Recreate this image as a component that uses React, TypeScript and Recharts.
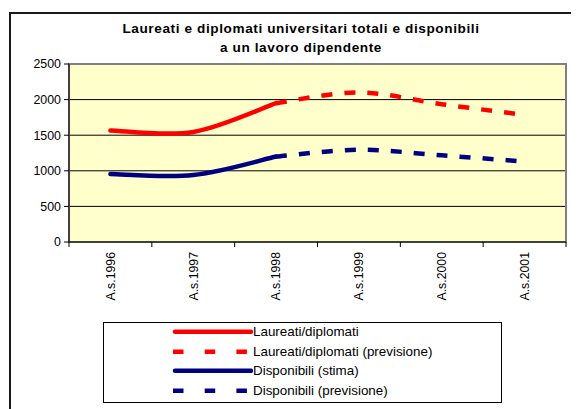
import { LineChart, Line, XAxis, YAxis, CartesianGrid, ReferenceArea } from "recharts";

const YEARS = ["A.s.1996", "A.s.1997", "A.s.1998", "A.s.1999", "A.s.2000", "A.s.2001"];
const LAUREATI = [1567, 1545, 1950, null, null, null];
const LAUREATI_PREV = [null, null, 1950, 2100, 1935, 1785];
const DISPONIBILI = [955, 940, 1200, null, null, null];
const DISPONIBILI_PREV = [null, null, 1200, 1295, 1217, 1130];
const Y_TICKS = [0, 500, 1000, 1500, 2000, 2500];
const TITLE = ["Laureati e diplomati universitari totali e disponibili", "a un lavoro dipendente"];

const SERIES = [
  { key: "laureati", name: "Laureati/diplomati", color: "#ff0000", dashed: false },
  { key: "laureatiPrev", name: "Laureati/diplomati (previsione)", color: "#ff0000", dashed: true },
  { key: "disponibili", name: "Disponibili (stima)", color: "#000080", dashed: false },
  { key: "disponibiliPrev", name: "Disponibili (previsione)", color: "#000080", dashed: true },
];

// categories sit in the middle of each band, so x = index + 0.5 on a 0..n axis
const data = YEARS.map((year, i) => ({
  x: i + 0.5,
  year,
  laureati: LAUREATI[i],
  laureatiPrev: LAUREATI_PREV[i],
  disponibili: DISPONIBILI[i],
  disponibiliPrev: DISPONIBILI_PREV[i],
}));

const xTicks = Array.from({ length: YEARS.length * 2 + 1 }, (_, i) => i / 2);

const FONT = "'Liberation Sans', Arial, sans-serif";

// Excel-like smoothing (uniform Catmull-Rom as bezier segments)
function smoothCurve(context: any) {
  let pts: number[][] = [];
  return {
    areaStart() {},
    areaEnd() {},
    lineStart() {
      pts = [];
    },
    point(x: number, y: number) {
      pts.push([+x, +y]);
    },
    lineEnd() {
      if (!pts.length) return;
      context.moveTo(pts[0][0], pts[0][1]);
      for (let i = 0; i < pts.length - 1; i++) {
        const p0 = pts[i - 1] || pts[i];
        const p1 = pts[i];
        const p2 = pts[i + 1];
        const p3 = pts[i + 2] || p2;
        context.bezierCurveTo(
          p1[0] + (p2[0] - p0[0]) / 6,
          p1[1] + (p2[1] - p0[1]) / 6,
          p2[0] - (p3[0] - p1[0]) / 6,
          p2[1] - (p3[1] - p1[1]) / 6,
          p2[0],
          p2[1]
        );
      }
    },
  };
}

function XTick(props: any) {
  const { x, y, payload } = props;
  const v = Number(payload.value);
  if (Number.isInteger(v)) {
    return <line x1={x} x2={x} y1={y} y2={y + 5} stroke="#000" strokeWidth={1} />;
  }
  return (
    <text
      transform={`translate(${x},${y + 10}) rotate(-90)`}
      textAnchor="end"
      dy="0.35em"
      fontSize={12.3}
      fontFamily={FONT}
      fill="#000"
    >
      {YEARS[Math.floor(v)]}
    </text>
  );
}

function LegendBox() {
  return (
    <div
      style={{
        position: "absolute",
        left: 95,
        top: 314,
        width: 397,
        height: 79,
        border: "1px solid #000",
        background: "#fff",
        fontFamily: FONT,
        fontSize: 13.4,
      }}
    >
      {SERIES.map((s, i) => (
        <div
          key={s.key}
          style={{ position: "absolute", top: -1 + i * 19.5, left: 0, height: 19.5, display: "flex", alignItems: "center" }}
        >
          <svg width={149} height={19.5} style={{ display: "block" }}>
            {s.dashed ? (
              <line x1={69} x2={150} y1={9.75} y2={9.75} stroke={s.color} strokeWidth={4.5} strokeDasharray="10.5 21.2" />
            ) : (
              <line x1={71} x2={147} y1={9.75} y2={9.75} stroke={s.color} strokeWidth={4.5} strokeLinecap="round" />
            )}
          </svg>
          <span style={{ color: "#000", whiteSpace: "nowrap" }}>{s.name}</span>
        </div>
      ))}
    </div>
  );
}

export default function App() {
  return (
    <div style={{ position: "relative", width: 571, height: 401, overflow: "hidden", background: "#fff" }}>
      <div
        style={{
          position: "absolute",
          left: 1,
          top: 4,
          width: 620,
          height: 500,
          border: "2px solid #1a1a1a",
        }}
      />
      <div
        style={{
          position: "absolute",
          left: 0,
          top: 11,
          width: 586,
          textAlign: "center",
          fontFamily: FONT,
          fontWeight: "bold",
          fontSize: 13.6,
          letterSpacing: 0.6,
          lineHeight: "19px",
          color: "#000",
        }}
      >
        {TITLE.map((t) => (
          <div key={t}>{t}</div>
        ))}
      </div>
      <div style={{ position: "absolute", left: 0, top: 0 }}>
        <LineChart
          width={571}
          height={401}
          data={data}
          margin={{ top: 56, right: 13, bottom: 107, left: 0 }}
        >
          <CartesianGrid stroke="#000" vertical={false} fill="#ffffcc" />
          <ReferenceArea x1={0} x2={6} y1={0} y2={2500} fill="none" stroke="#808080" strokeWidth={2} ifOverflow="visible" />
          <XAxis
            type="number"
            dataKey="x"
            domain={[0, YEARS.length]}
            ticks={xTicks}
            interval={0}
            tickSize={0}
            tickMargin={0}
            tick={<XTick />}
            height={60}
            axisLine={{ stroke: "#000" }}
          />
          <YAxis
            type="number"
            domain={[0, 2500]}
            ticks={Y_TICKS}
            interval={0}
            width={61}
            tickSize={5}
            tickMargin={3}
            tick={{ fill: "#000", fontSize: 12.4, fontFamily: FONT }}
            axisLine={{ stroke: "#000" }}
            tickLine={{ stroke: "#000" }}
          />
          {SERIES.map((s) => (
            <Line
              key={s.key}
              dataKey={s.key}
              name={s.name}
              type={smoothCurve as any}
              stroke={s.color}
              strokeWidth={4.5}
              strokeDasharray={s.dashed ? "11 12" : undefined}
              strokeLinecap={s.dashed ? "butt" : "round"}
              dot={false}
              activeDot={false}
              isAnimationActive={false}
            />
          ))}
        </LineChart>
      </div>
      <LegendBox />
    </div>
  );
}
